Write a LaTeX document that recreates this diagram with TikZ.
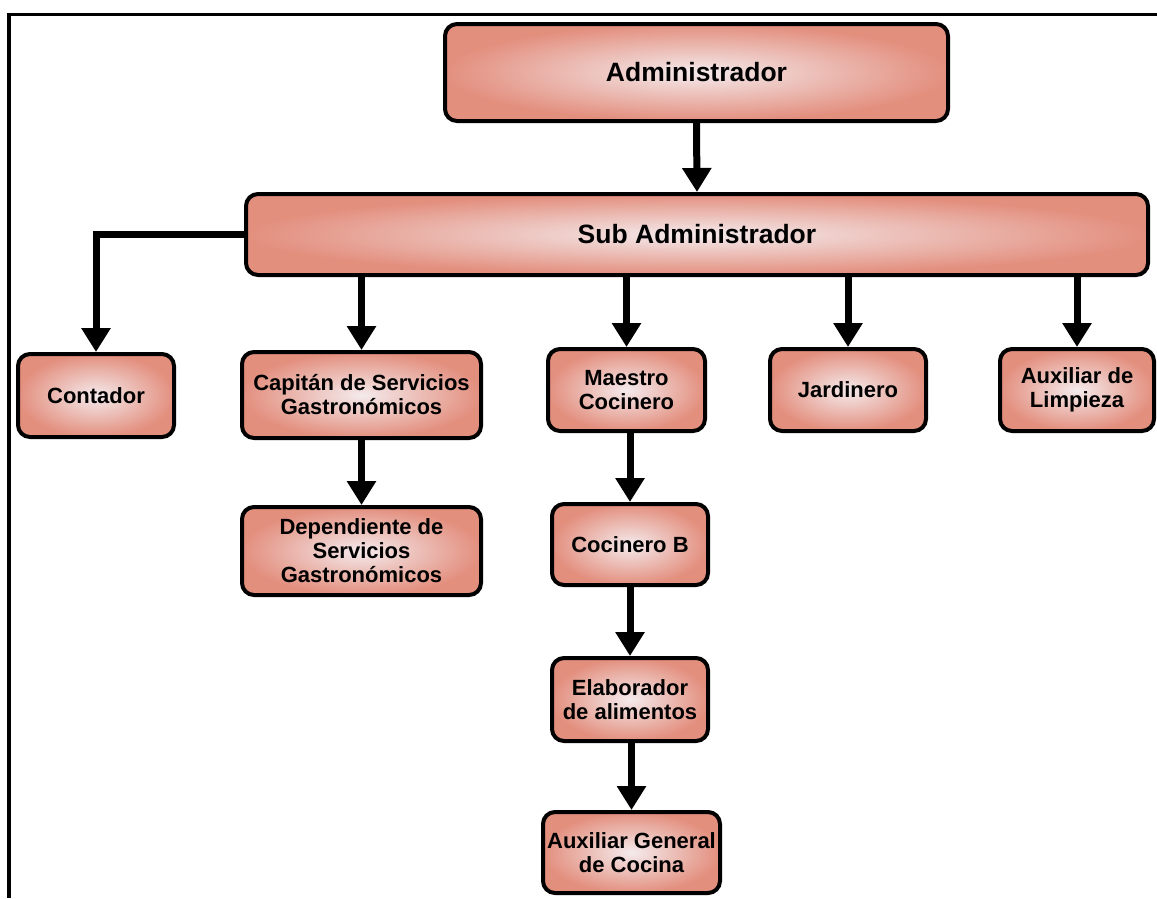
\documentclass[tikz,border=0pt]{standalone}
\usepackage{fontspec}
\setmainfont{Liberation Sans}
\usetikzlibrary{arrows.meta}
\definecolor{boxout}{RGB}{227,143,126}
\definecolor{boxin}{RGB}{244,234,236}
\begin{document}
\begin{tikzpicture}[x=1pt,y=-1pt,
 box/.style={draw=black, line width=4pt, rounded corners=12pt, inner color=boxin, outer color=boxout,
   align=center, font=\fontsize{22}{24}\selectfont\bfseries, inner sep=2pt, text=black},
 bigbox/.style={box, font=\fontsize{26.5}{30}\selectfont\bfseries},
 conn/.style={line width=7pt, -{Triangle[width=28pt,length=24pt]}},
 frame/.style={line width=3.5pt}
]
\useasboundingbox (0,0) rectangle (1157,898);
% frame
\coordinate (fbl) at (9,898);
\coordinate (ftl) at (9,14.5);
\coordinate (ftr) at (1157,14.5);
\draw[frame] (fbl) -- (ftl) -- (ftr);

\node[bigbox, minimum width=503pt, minimum height=97pt] (admin) at (696.5,72.5) {Administrador};
\node[bigbox, minimum width=902pt, minimum height=81pt] (sub) at (697,234.5) {Sub Administrador};

\node[box, minimum width=156pt, minimum height=83pt] (cont) at (96,395.5) {Contador};
\node[box, minimum width=239pt, minimum height=86pt] (cap) at (361.5,395) {Capitán de Servicios\\Gastronómicos};
\node[box, minimum width=157pt, minimum height=82pt] (mae) at (626.5,390) {Maestro\\Cocinero};
\node[box, minimum width=156pt, minimum height=82pt] (jar) at (848,390) {Jardinero};
\node[box, minimum width=154pt, minimum height=82pt] (aux) at (1077,390) {Auxiliar de\\Limpieza};

\node[box, minimum width=239pt, minimum height=88pt] (dep) at (361.5,551) {Dependiente de\\Servicios\\Gastronómicos};
\node[box, minimum width=156pt, minimum height=81pt] (cocb) at (630,544.5) {Cocinero B};
\node[box, minimum width=156pt, minimum height=83pt] (ela) at (630,699.5) {Elaborador\\de alimentos};
\node[box, minimum width=177pt, minimum height=81pt] (auxg) at (631.5,852.5) {Auxiliar General\\de Cocina};

\draw[conn] (admin.south) -- (sub.north);
\draw[conn] (sub.west) -| (cont.north);
\draw[conn] (sub.south -| cap.north) -- (cap.north);
\draw[conn] (sub.south -| mae.north) -- (mae.north);
\draw[conn] (sub.south -| jar.north) -- (jar.north);
\draw[conn] (sub.south -| aux.north) -- (aux.north);
\draw[conn] (cap.south) -- (dep.north);
\draw[conn] (mae.south -| cocb.north) -- (cocb.north);
\draw[conn] (cocb.south) -- (ela.north);
\draw[conn] (ela.south -| auxg.north) -- (auxg.north);
\end{tikzpicture}
\end{document}
